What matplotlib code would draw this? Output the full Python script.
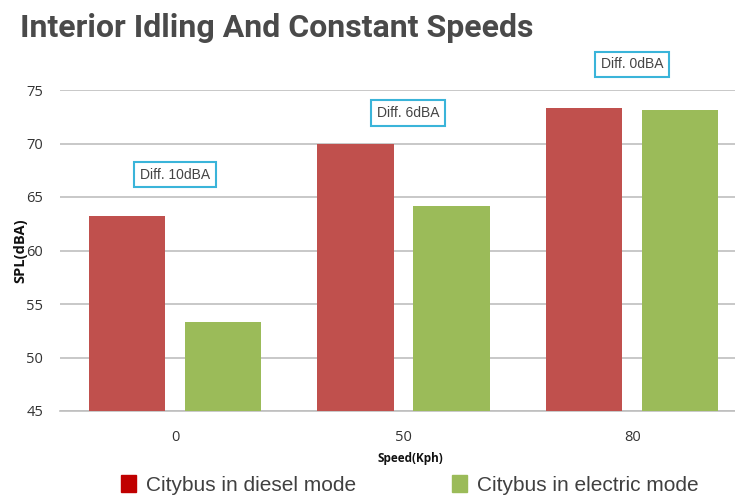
import numpy as np
import matplotlib.pyplot as plt
from matplotlib.patches import Patch

# values
speeds = ['0', '50', '80']
diesel = [63.2, 70.0, 73.3]
electric = [53.3, 64.2, 73.1]
diff_labels = ['Diff. 10dBA', 'Diff. 6dBA', 'Diff. 0dBA']
diff_x = [0.0, 1.02, 2.0]
diff_y = [67.1, 72.85, 77.4]
yticks = [45, 50, 55, 60, 65, 70, 75]

red = '#c0504d'
green = '#9bbb59'
grid_col = '#bfbfbf'

fig = plt.figure(figsize=(7.35, 4.95), dpi=100)
ax = fig.add_axes([60 / 735, 1 - 411 / 495, 1 - 60 / 735, (411 - 90) / 495])

x = np.arange(len(speeds))
w = 0.335
off = 0.21
ax.bar(x - off, diesel, w, color=red, zorder=3)
ax.bar(x + off, electric, w, color=green, zorder=3)

ax.set_ylim(45, 75)
ax.set_xlim(-0.503, 2.45)
ax.set_yticks(yticks)
ax.set_xticks(x)
ax.set_xticklabels(speeds)
ax.yaxis.grid(True, color=grid_col, linewidth=1.2, zorder=0)
ax.tick_params(axis='both', length=0, labelsize=10.5, labelcolor='#333333')
ax.tick_params(axis='y', pad=12)
ax.tick_params(axis='x', pad=14)
for lab in ax.get_xticklabels() + ax.get_yticklabels():
    lab.set_family('Open Sans')
for s in ['top', 'right', 'left']:
    ax.spines[s].set_visible(False)
ax.spines['bottom'].set_color(grid_col)
ax.spines['bottom'].set_linewidth(1.2)

ax.set_ylabel('SPL(dBA)', fontsize=10.5, fontweight='bold', family='Open Sans', color='#111111')
ax.yaxis.set_label_coords(-33 / 675, 0.5)
ax.set_xlabel('Speed(Kph)', fontsize=8.5, fontweight='bold', family='Open Sans', color='#111111')
ax.xaxis.set_label_coords((410 - 60) / 675, -(452 - 411) / 321)

for xx, yy, t in zip(diff_x, diff_y, diff_labels):
    ax.text(xx, yy, t, ha='center', va='center', fontsize=10, color='#444444',
            family='Liberation Sans', clip_on=False, zorder=5,
            bbox=dict(boxstyle='square,pad=0.4', fc='white', ec='#3ab4d9', lw=1.5))

fig.text(20 / 735, 1 - 28 / 495, 'Interior Idling And Constant Speeds', fontsize=23,
         fontweight='bold', color='#4a4a4a', family='Roboto', va='center')

handles = [Patch(color='#c00000'), Patch(color=green)]
fig.legend(handles, ['Citybus in diesel mode', 'Citybus in electric mode'],
           loc='center', bbox_to_anchor=(410 / 735, 1 - 485 / 495), ncol=2, frameon=False,
           prop={'family': 'Liberation Sans', 'size': 15}, labelcolor='#404040',
           handlelength=0.7, handleheight=0.9, handletextpad=0.5, columnspacing=4.6,
           borderaxespad=0)

fig.savefig('out.png', dpi=100)
